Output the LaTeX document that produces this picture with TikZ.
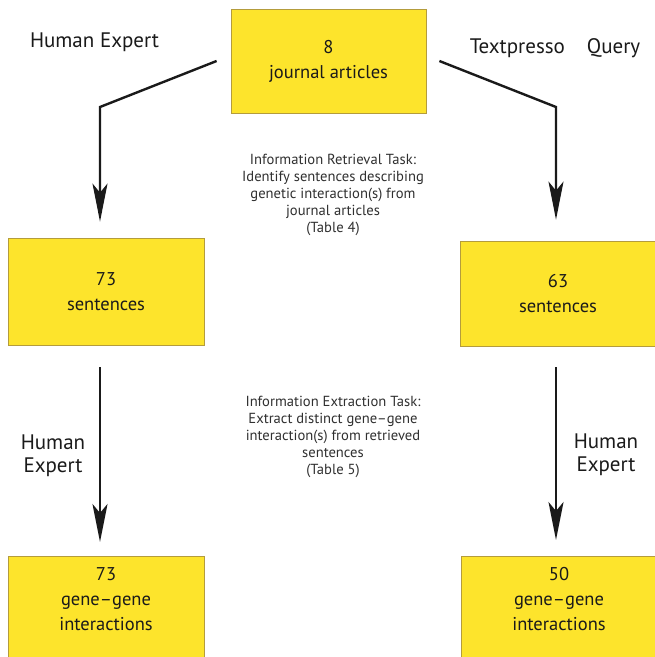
\documentclass[tikz,border=0pt]{standalone}
\usepackage{fontspec}
\setmainfont{PT Sans}
\usepackage{tikz}
\usetikzlibrary{calc,arrows.meta}
\definecolor{bg}{HTML}{FFFFFF}
\definecolor{boxfill}{HTML}{FDE42C}
\definecolor{boxline}{HTML}{B49C3C}
\definecolor{ink}{HTML}{1A1A1A}
\definecolor{note}{HTML}{303030}
\tikzset{
  box/.style={draw=boxline, fill=boxfill, line width=0.8pt, minimum width=196pt, minimum height=107pt, inner sep=0pt, align=center, text=ink, font=\fontsize{18.5}{25}\selectfont},
  flow/.style={draw=ink, line width=2.4pt, -{Stealth[length=38pt,width=15pt,inset=9pt]}},
  lab/.style={text=ink, align=center, font=\fontsize{21}{23}\selectfont},
  task/.style={text=note, align=center, font=\fontsize{14.6}{17}\selectfont},
}

\begin{document}
\begin{tikzpicture}[x=1pt,y=-1pt]
  \clip (0,0) rectangle (655,657);
  \fill[bg] (0,0) rectangle (655,657);

  \coordinate (bendL) at (100,107);
  \coordinate (bendR) at (556,107);

  % boxes
  \node[box, minimum width=195pt, minimum height=104pt] (articles) at (328.5,61) {8\\journal articles};
  \node[box] (sentL) at (106,291.5) {73\\sentences};
  \node[box, minimum height=105pt] (sentR) at (558,293.5) {63\\sentences};
  \node[box, anchor=north] (pairsL) at (106,556)
    {\raisebox{9pt}[\height][\depth]{\begin{tabular}{@{}c@{}}73\\gene–gene\\interactions\end{tabular}}};
  \node[box, anchor=north] (pairsR) at (559,556)
    {\raisebox{9pt}[\height][\depth]{\begin{tabular}{@{}c@{}}50\\gene–gene\\interactions\end{tabular}}};

  % who does the step
  \node[lab] (expertTop) at (94.5,42) {Human Expert};
  \node[lab] (query) at (555,48) {Textpresso\hspace{22pt}Query};
  \node[lab] (expertL) at (53,456) {Human\\Expert};
  \node[lab] (expertR) at (606,455) {Human\\Expert};

  \node[task] (retrieval) at (333,195) {Information Retrieval Task:\\Identify sentences describing\\genetic interaction(s) from\\journal articles\\(Table 4)};
  \node[task] (extraction) at (333,437) {Information Extraction Task:\\Extract distinct gene–gene\\interaction(s) from retrieved\\sentences\\(Table 5)};

  \draw[flow, shorten >=16pt] ([xshift=-14pt]articles.west) -- (bendL) -- (bendL |- sentL.north);
  \draw[flow, shorten >=21pt] ([xshift=13pt]articles.east) -- (bendR) -- (bendR |- sentR.north);
  \draw[flow, shorten <=22pt, shorten >=14pt] (sentL.south -| bendL) -- (pairsL.north -| bendL);
  \draw[flow, shorten <=21pt, shorten >=16pt] (sentR.south -| bendR) -- (pairsR.north -| bendR);
\end{tikzpicture}
\end{document}
